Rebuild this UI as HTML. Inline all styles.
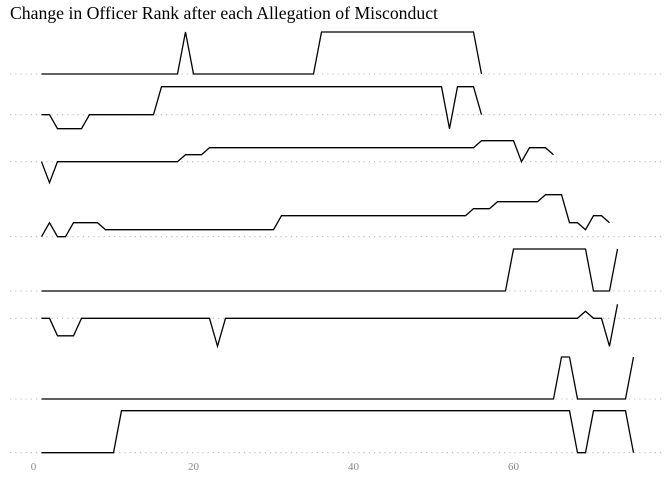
<!DOCTYPE html>
<html><head><meta charset="utf-8"><style>
html,body{margin:0;padding:0;background:#fff;}
svg{display:block;}
</style></head><body>
<svg id="chart" width="672" height="480" viewBox="0 0 672 480" xmlns="http://www.w3.org/2000/svg">
<text x="10" y="19" font-family="Liberation Serif, serif" font-size="17.7" fill="#000">Change in Officer Rank after each Allegation of Misconduct</text>
<g id="grid"></g><g id="lines"></g><g id="xaxis"></g>
</svg>
<script>
// Rank changes per allegation (index 1..N), one array per officer
const officer1 = [0,0,0,0,0,0,0,0,0,0,0,0,0,0,0,0,0,0,6,0,0,0,0,0,0,0,0,0,0,0,0,0,0,0,0,6,6,6,6,6,6,6,6,6,6,6,6,6,6,6,6,6,6,6,6,0];
const officer2 = [0,0,-2,-2,-2,-2,0,0,0,0,0,0,0,0,0,4,4,4,4,4,4,4,4,4,4,4,4,4,4,4,4,4,4,4,4,4,4,4,4,4,4,4,4,4,4,4,4,4,4,4,4,-2,4,4,4,0];
const officer3 = [0,-3,0,0,0,0,0,0,0,0,0,0,0,0,0,0,0,0,1,1,1,2,2,2,2,2,2,2,2,2,2,2,2,2,2,2,2,2,2,2,2,2,2,2,2,2,2,2,2,2,2,2,2,2,2,3,3,3,3,3,0,2,2,2,1];
const officer4 = [0,2,0,0,2,2,2,2,1,1,1,1,1,1,1,1,1,1,1,1,1,1,1,1,1,1,1,1,1,1,3,3,3,3,3,3,3,3,3,3,3,3,3,3,3,3,3,3,3,3,3,3,3,3,4,4,4,5,5,5,5,5,5,6,6,6,2,2,1,3,3,2];
const officer5 = [0,0,0,0,0,0,0,0,0,0,0,0,0,0,0,0,0,0,0,0,0,0,0,0,0,0,0,0,0,0,0,0,0,0,0,0,0,0,0,0,0,0,0,0,0,0,0,0,0,0,0,0,0,0,0,0,0,0,0,6,6,6,6,6,6,6,6,6,6,0,0,0,6];
const officer6 = [0,0,-2.5,-2.5,-2.5,0,0,0,0,0,0,0,0,0,0,0,0,0,0,0,0,0,-4,0,0,0,0,0,0,0,0,0,0,0,0,0,0,0,0,0,0,0,0,0,0,0,0,0,0,0,0,0,0,0,0,0,0,0,0,0,0,0,0,0,0,0,0,0,1,0,0,-4,2];
const officer7 = [0,0,0,0,0,0,0,0,0,0,0,0,0,0,0,0,0,0,0,0,0,0,0,0,0,0,0,0,0,0,0,0,0,0,0,0,0,0,0,0,0,0,0,0,0,0,0,0,0,0,0,0,0,0,0,0,0,0,0,0,0,0,0,0,0,6,6,0,0,0,0,0,0,0,6];
const officer8 = [0,0,0,0,0,0,0,0,0,0,6,6,6,6,6,6,6,6,6,6,6,6,6,6,6,6,6,6,6,6,6,6,6,6,6,6,6,6,6,6,6,6,6,6,6,6,6,6,6,6,6,6,6,6,6,6,6,6,6,6,6,6,6,6,6,6,6,0,0,6,6,6,6,6,0];
const seriesList = [officer1,officer2,officer3,officer4,officer5,officer6,officer7,officer8];
const xTicks = [0,20,40,60];
const xTickLabels = ["0","20","40","60"];

// layout
const rowBase = [74,114.7,161.7,236.7,291,318.3,399,452.7];
const unitPx = 7;
const xScale = v => 33.5 + 8.0*v;
const NS = "http://www.w3.org/2000/svg";
const grid = document.getElementById('grid');
const lines = document.getElementById('lines');
const xaxis = document.getElementById('xaxis');

seriesList.forEach((s,i)=>{
  const base = rowBase[i];
  const g = document.createElementNS(NS,'line');
  g.setAttribute('x1',10); g.setAttribute('x2',662);
  g.setAttribute('y1',base); g.setAttribute('y2',base);
  g.setAttribute('stroke','#bbb'); g.setAttribute('stroke-width','1.1');
  g.setAttribute('stroke-dasharray','1.2 4');
  
  
  grid.appendChild(g);
  const pts = s.map((v,j)=>xScale(j+1).toFixed(1)+','+(base - v*unitPx).toFixed(1)).join(' ');
  const p = document.createElementNS(NS,'polyline');
  p.setAttribute('points',pts);
  p.setAttribute('fill','none'); p.setAttribute('stroke','#000'); p.setAttribute('stroke-width','1.3');
  p.setAttribute('stroke-linejoin','miter');
  
  
  lines.appendChild(p);
});
xTicks.forEach((t,i)=>{
  const tx = document.createElementNS(NS,'text');
  tx.setAttribute('x',xScale(t)); tx.setAttribute('y',470);
  tx.setAttribute('text-anchor','middle');
  tx.setAttribute('font-family','Liberation Serif, serif');
  tx.setAttribute('font-size','11'); tx.setAttribute('fill','#888');
  tx.textContent = xTickLabels[i];
  
  
  xaxis.appendChild(tx);
});
</script>
</body></html>
